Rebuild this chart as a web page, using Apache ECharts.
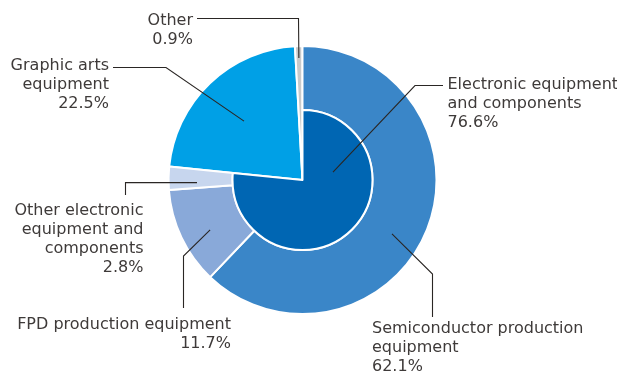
<!DOCTYPE html>
<html>
<head>
<meta charset="utf-8">
<script src="https://cdn.jsdelivr.net/npm/echarts@6/dist/echarts.min.js"></script>
<style>
html,body{margin:0;padding:0;background:#fff;}
#chart{width:617px;height:376px;}
</style>
</head>
<body>
<div id="chart"></div>
<script>
// ---- data ----
var innerNames = ['Electronic equipment and components'];
var innerValues = [76.6];
var innerLabels = ['Electronic equipment\nand components'];

var fullNames = ['Graphic arts equipment', 'Other'];
var fullValues = [22.5, 0.9];
var fullLabels = ['Graphic arts\nequipment', 'Other'];

var ringNames = ['Semiconductor production equipment', 'FPD production equipment', 'Other electronic equipment and components'];
var ringValues = [62.1, 11.7, 2.8];
var ringLabels = ['Semiconductor production\nequipment', 'FPD production equipment', 'Other electronic\nequipment and\ncomponents'];

// ---- styles / layout ----
var CX = 302.5, CY = 180, R = 134, R_IN = 70;
var innerColors = ['#0066b3'];
var fullColors = ['#00a0e6', '#c9caca'];
var ringColors = ['#3a86c8', '#89a9d9', '#c7d6ee'];
var TEXT = '#3e3a39';
var LINE = '#2a2624';
var FONT = '"DejaVu Sans", sans-serif';

// anchor: [angle clockwise from top (deg), radius]; bend/end: pixel points; text: x, top y, align
var innerLayout = [
  {anchor: [75.3, 31.5], bend: [415, 85.5], end: [443, 85.5], x: 447.5, y: 75, align: 'left'}
];
var fullLayout = [
  {anchor: [315.2, 83], bend: [166, 67.5], end: [113, 67.5], x: 109, y: 56.5, align: 'right'},
  {anchor: [358.3, 122], bend: [298.5, 18.5], end: [197, 18.5], x: 193, y: 11.5, align: 'right'}
];
var ringLayout = [
  {anchor: [121.1, 104.5], bend: [432.5, 274], end: [432.5, 317], x: 372, y: 319, align: 'left'},
  {anchor: [241.6, 105], bend: [183.5, 256], end: [183.5, 308], x: 231, y: 315.5, align: 'right'},
  {anchor: [268.6, 105.5], bend: [125.5, 182.5], end: [125.5, 195], x: 143.5, y: 201, align: 'right'}
];

function polar(a, r) {
  var t = a * Math.PI / 180;
  return [CX + r * Math.sin(t), CY - r * Math.cos(t)];
}
function sum(a) { return a.reduce(function (s, v) { return s + v; }, 0); }
function build(names, values, labels, colors) {
  return values.map(function (v, i) {
    return {name: names[i], value: v, label: {formatter: labels[i] + '\n' + v.toFixed(1) + '%'},
            itemStyle: {color: colors[i]}};
  });
}
function gap(v) {
  return {name: 'gap', value: +v.toFixed(1), itemStyle: {color: 'rgba(0,0,0,0)', borderWidth: 0},
    label: {show: false}, emphasis: {disabled: true}};
}
var total = 100;
var innerData = build(innerNames, innerValues, innerLabels, innerColors);
innerData.push(gap(total - sum(innerValues)));
var ringData = build(ringNames, ringValues, ringLabels, ringColors);
ringData.push(gap(total - sum(ringValues)));
var fullData = [gap(total - sum(fullValues))].concat(build(fullNames, fullValues, fullLabels, fullColors));

var labelCommon = {
  show: true, position: 'outside', color: TEXT, fontFamily: FONT, fontSize: 16, lineHeight: 19
};

function pie(radius, data, layout, z) {
  return {
    type: 'pie', center: [CX, CY], radius: radius, startAngle: 90, clockwise: true,
    avoidLabelOverlap: false, silent: true, z: z,
    itemStyle: {borderColor: '#fff', borderWidth: 2},
    label: labelCommon, labelLine: {show: false},
    labelLayout: function (p) {
      if (data[p.dataIndex].name === 'gap') return {};
      var idx = p.dataIndex - (data[0].name === 'gap' ? 1 : 0);
      var L = layout[idx];
      return {x: L.x, y: L.y, align: L.align, verticalAlign: 'top'};
    },
    data: data
  };
}

// leader lines drawn above all sectors
var leaders = innerLayout.concat(fullLayout, ringLayout).map(function (L) {
  return {
    type: 'polyline', z: 100, silent: true,
    shape: {points: [polar(L.anchor[0], L.anchor[1]), L.bend, L.end]},
    style: {stroke: LINE, lineWidth: 1.1, fill: null}
  };
});

var chart = echarts.init(document.getElementById('chart'), null, {renderer: 'canvas'});
chart.setOption({
  animation: false,
  graphic: leaders,
  series: [
    pie([0, R], fullData, fullLayout, 2),
    pie([R_IN, R], ringData, ringLayout, 2),
    pie([0, R_IN], innerData, innerLayout, 3)
  ]
});
</script>
</body>
</html>
